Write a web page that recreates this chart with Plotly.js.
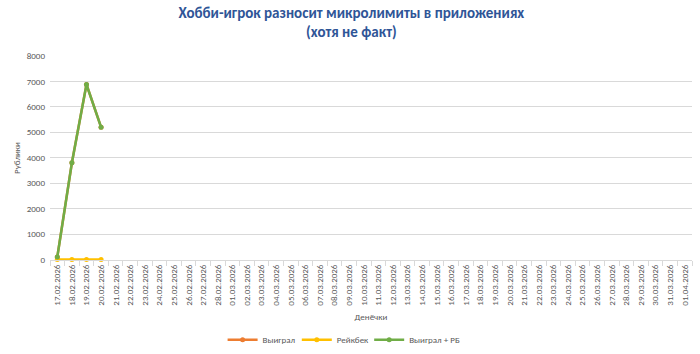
<!DOCTYPE html>
<html>
<head>
<meta charset="utf-8">
<script src="https://cdn.plot.ly/plotly-3.0.1.min.js"></script>
<style>html,body{margin:0;padding:0;background:#fff;}#chart{width:700px;height:354px;}</style>
</head>
<body>
<div id="chart"></div>
<script>
const dates = ["17.02.2026","18.02.2026","19.02.2026","20.02.2026","21.02.2026","22.02.2026","23.02.2026","24.02.2026","25.02.2026","26.02.2026","27.02.2026","28.02.2026",
"01.03.2026","02.03.2026","03.03.2026","04.03.2026","05.03.2026","06.03.2026","07.03.2026","08.03.2026","09.03.2026","10.03.2026","11.03.2026","12.03.2026","13.03.2026","14.03.2026","15.03.2026","16.03.2026","17.03.2026","18.03.2026","19.03.2026","20.03.2026","21.03.2026","22.03.2026","23.03.2026","24.03.2026","25.03.2026","26.03.2026","27.03.2026","28.03.2026","29.03.2026","30.03.2026","31.03.2026","01.04.2026"];
const won = [100, 3800, 6880, 5200];
const rakeback = [0, 0, 0, 0];
const wonPlusRb = [100, 3800, 6880, 5200];

const font = "Calibri, Carlito, 'Liberation Sans Narrow', 'Open Sans', sans-serif";
function tr(name, y, color, leg) {
  return {x: dates.slice(0, y.length), y: y, name: name, type: 'scatter', mode: 'lines+markers', legend: leg,
    cliponaxis: false, line: {color: color, width: 2.5}, marker: {color: color, size: 5}};
}
const data = [tr('Выиграл', won, '#ED7D31', 'legend'), tr('Рейкбек', rakeback, '#FFC000', 'legend2'), tr('Выиграл + РБ', wonPlusRb, '#70AD47', 'legend3')];
function leg(x) {
  return {orientation: 'h', xref: 'container', x: x, xanchor: 'left', yref: 'container', y: 0.04, yanchor: 'middle',
    font: {size: 9, color: '#595959'}, bgcolor: 'rgba(0,0,0,0)'};
}
const layout = {
  width: 700, height: 354,
  margin: {l: 50, r: 8, t: 56, b: 94, autoexpand: false},
  paper_bgcolor: '#fff', plot_bgcolor: '#fff',
  font: {family: font, color: '#595959', size: 9},
  title: {text: '<b>Хобби-игрок разносит микролимиты в приложениях<br>(хотя не факт)</b>',
    font: {family: font, size: 15, color: '#2F5597'}, x: 0.502, xanchor: 'center', y: 0.95, yanchor: 'top'},
  xaxis: {type: 'category', categoryorder: 'array', categoryarray: dates, range: [-0.5, dates.length - 0.5],
    tickangle: -90, tickfont: {size: 9, color: '#595959'}, showgrid: false,
    showline: true, linecolor: '#d9d9d9', ticks: 'outside', tickson: 'boundaries', ticklen: 5, tickcolor: '#d9d9d9',
    title: {text: 'Денёчки', font: {size: 9, color: '#595959'}, standoff: 9}, automargin: false, fixedrange: true},
  yaxis: {range: [-20, 8000], tick0: 0, dtick: 1000, showgrid: true, gridcolor: '#d9d9d9', zeroline: false,
    showline: false, ticks: '', tickfont: {size: 9, color: '#595959'}, ticklabelstandoff: 4,
    title: {text: 'Рублики', font: {size: 9, color: '#595959'}, standoff: 4}, automargin: false},
  showlegend: true,
  legend: leg(0.318), legend2: leg(0.424), legend3: leg(0.5274)
};
Plotly.newPlot('chart', data, layout, {staticPlot: true});
</script>
</body>
</html>
